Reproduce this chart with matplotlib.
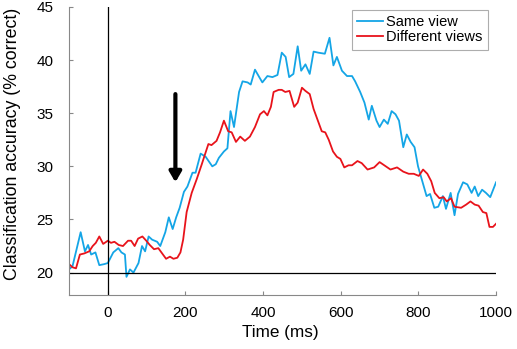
import numpy as np
import matplotlib
matplotlib.use("Agg")
import matplotlib.pyplot as plt

plt.rcParams['font.family'] = ['Liberation Sans', 'DejaVu Sans']

# Same view (blue)
same_t = [-100, -91, -70, -59, -51, -43, -32, -22, -9, 0, 14, 27, 35, 44, 48, 57, 66, 79,
          88, 96, 105, 114, 127, 135, 148, 157, 167, 176, 185, 196, 205, 218, 226, 239,
          252, 269, 278, 286, 299, 308, 316, 325, 338, 347, 360, 368, 379, 390, 398, 411,
          424, 437, 448, 458, 467, 478, 489, 498, 509, 520, 530, 542, 559, 571, 581, 590,
          603, 616, 629, 637, 650, 661, 672, 680, 692, 700, 711, 721, 731, 741, 750, 761,
          770, 780, 790, 799, 810, 821, 830, 841, 851, 863, 871, 883, 893, 902, 915, 926,
          937, 945, 954, 964, 974, 985, 1000]
same_acc = [20.3, 20.6, 23.8, 22.0, 22.6, 21.7, 21.9, 20.7, 20.8, 20.9, 21.9, 22.3, 21.9,
            21.7, 19.6, 20.3, 20.0, 20.9, 22.5, 22.0, 23.4, 23.1, 22.9, 22.5, 23.8, 25.2,
            24.1, 25.2, 26.1, 27.6, 28.1, 29.4, 29.4, 31.2, 30.9, 30.0, 30.2, 30.8, 31.4,
            31.7, 35.2, 33.7, 37.0, 38.0, 37.9, 37.7, 39.1, 38.4, 37.9, 38.5, 38.4, 38.6,
            40.7, 40.3, 38.4, 38.7, 41.3, 39.0, 39.6, 38.7, 40.8, 40.7, 40.6, 42.1, 39.5,
            40.3, 39.0, 38.5, 38.5, 38.0, 37.0, 36.0, 34.4, 35.7, 34.3, 33.7, 34.4, 34.0,
            35.2, 34.9, 34.3, 31.8, 33.0, 32.3, 31.8, 30.0, 28.6, 27.2, 27.4, 26.1, 26.2,
            27.2, 26.0, 27.5, 25.4, 27.4, 28.5, 28.3, 27.5, 28.1, 27.2, 27.8, 27.5, 27.1,
            28.5]

# Different views (red)
diff_t = [-100, -91, -82, -72, -61, -48, -39, -31, -22, -12, 0, 8, 17, 28, 39, 52, 60, 69,
          78, 89, 99, 108, 119, 130, 138, 150, 160, 169, 179, 187, 194, 203, 216, 229, 242,
          250, 259, 267, 280, 289, 299, 310, 319, 330, 341, 353, 366, 379, 392, 402, 411,
          420, 427, 440, 448, 457, 468, 480, 489, 500, 509, 520, 530, 541, 551, 560, 569,
          580, 590, 599, 609, 620, 629, 643, 654, 669, 686, 700, 712, 728, 745, 761, 775,
          788, 801, 812, 823, 833, 842, 854, 865, 873, 884, 893, 910, 923, 934, 945, 955,
          966, 975, 983, 992, 1000]
diff_acc = [20.8, 20.5, 20.4, 21.7, 21.8, 22.0, 22.5, 22.8, 23.4, 22.7, 23.0, 22.8, 22.9,
            22.6, 22.5, 23.0, 23.0, 22.5, 23.2, 23.4, 23.0, 22.6, 22.2, 22.3, 21.9, 21.3,
            21.5, 21.3, 21.4, 21.9, 23.1, 25.7, 27.5, 28.8, 30.2, 31.1, 32.1, 32.0, 32.4,
            33.2, 34.3, 33.3, 33.2, 32.3, 32.8, 32.4, 32.8, 33.7, 34.9, 35.2, 34.8, 35.6,
            37.0, 37.2, 37.2, 37.0, 37.1, 35.6, 36.0, 37.4, 37.1, 36.8, 35.4, 34.3, 33.3,
            33.2, 32.5, 31.4, 30.9, 30.7, 29.9, 30.1, 30.1, 30.5, 30.3, 29.7, 29.9, 30.4,
            30.1, 29.7, 29.9, 29.5, 29.3, 29.3, 29.1, 29.7, 29.3, 28.6, 27.5, 27.0, 27.1,
            26.7, 27.0, 26.2, 26.1, 26.4, 26.7, 26.4, 26.3, 25.7, 25.6, 24.3, 24.3, 24.6]

chance = 20
arrow_time = 174
arrow_from, arrow_to = 36.8, 28.5

fig = plt.figure(figsize=(5.17, 3.49), dpi=100)
ax = fig.add_axes([0.1335, 0.155, 0.826, 0.825])

ax.plot(same_t, same_acc, color='#14A5E6', lw=1.3, label='Same view')
ax.plot(diff_t, diff_acc, color='#E8131B', lw=1.3, label='Different views')

ax.axhline(chance, color='black', lw=0.9)
ax.axvline(0, color='black', lw=0.9)

ax.annotate('', xy=(arrow_time, arrow_to), xytext=(arrow_time, arrow_from),
            arrowprops=dict(arrowstyle='-|>,head_length=0.6,head_width=0.35',
                            color='black', lw=3, shrinkA=0, shrinkB=0))

ax.set_xlim(-100, 1000)
ax.set_ylim(17.9, 45)
ax.set_xticks([0, 200, 400, 600, 800, 1000])
ax.set_yticks([20, 25, 30, 35, 40, 45])
ax.tick_params(direction='in', length=3, color='#888888', labelsize=11)
ax.tick_params(axis='x', pad=8)
ax.tick_params(axis='y', pad=11)
for s in ['top', 'right']:
    ax.spines[s].set_visible(False)
for s in ['left', 'bottom']:
    ax.spines[s].set_color('#888888')

ax.set_xlabel('Time (ms)', fontsize=12.3)
ax.set_ylabel('Classification accuracy (% correct)', fontsize=12.8)
ax.xaxis.set_label_coords(0.494, -0.103)
ax.yaxis.set_label_coords(-0.113, 0.525)

leg = ax.legend(loc='upper right', bbox_to_anchor=(0.98, 0.99), fontsize=10.5,
                frameon=True, fancybox=False, borderpad=0.35, handlelength=1.8,
                handletextpad=0.2, labelspacing=0.1, borderaxespad=0)
leg.get_frame().set_edgecolor('#999999')
leg.get_frame().set_linewidth(0.8)

fig.savefig('out.png', dpi=100)
